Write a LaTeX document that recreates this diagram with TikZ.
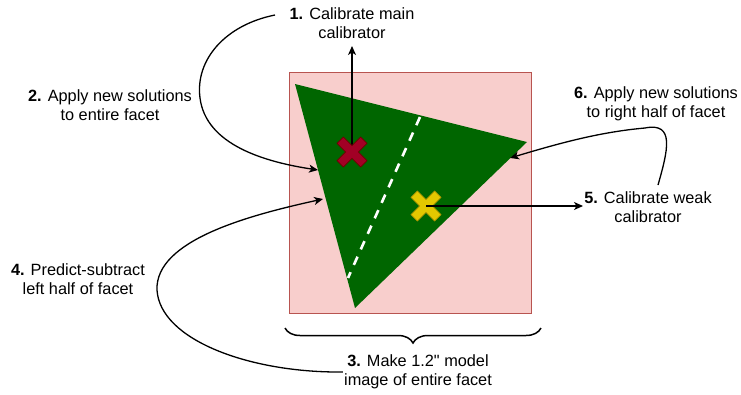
\documentclass[tikz,border=0pt]{standalone}
\usepackage{fontspec}
\setmainfont{Liberation Sans}
\usetikzlibrary{arrows.meta,decorations.pathreplacing}
\definecolor{pinkfill}{HTML}{F8CECC}
\definecolor{pinkline}{HTML}{B85450}
\definecolor{leafgreen}{HTML}{006600}
\definecolor{crimsonx}{HTML}{A20025}
\definecolor{crimsonline}{HTML}{6F0000}
\definecolor{goldx}{HTML}{E3C800}
\definecolor{goldline}{HTML}{B09500}
\newcommand\mycrossshape[3]{%
  \filldraw[fill=#2, draw=#3, line width=0.6pt, shift={(#1)}, rotate=45]
    (16.7,4.5) -- (4.5,4.5) -- (4.5,16.7) -- (-4.5,16.7) -- (-4.5,4.5) -- (-16.7,4.5)
    -- (-16.7,-4.5) -- (-4.5,-4.5) -- (-4.5,-16.7) -- (4.5,-16.7) -- (4.5,-4.5) -- (16.7,-4.5) -- cycle;}
\begin{document}
\begin{tikzpicture}[x=1pt,y=-1pt,
  lab/.style={align=center,font=\fontsize{16.3}{19}\selectfont,inner sep=1pt},
  conn/.style={line width=1.3pt,-{Stealth[length=9pt,width=8pt,inset=2.5pt]}}]
\useasboundingbox (0,0) rectangle (741,394);
% facet box
\filldraw[fill=pinkfill, draw=pinkline, line width=0.8pt] (289,72) rectangle (531,313);
% triangle
\fill[leafgreen] (295,84) -- (527,142) -- (355,308) -- cycle;
\draw[white, line width=2.6pt, dash pattern=on 9pt off 8pt] (420,117) -- (348,278);
% coordinates
\coordinate (redx) at (352,152);
\coordinate (yelx) at (426,206);
\coordinate (t2) at (318,170);
\coordinate (t4) at (323,199);
\coordinate (t6) at (510,158);
\coordinate (s2) at (275,15);
\coordinate (s6) at (658,185);
% labels
\node[lab] (lab1) at (352,23) {\textbf{1.} Calibrate main\\calibrator};
\node[lab] (lab2) at (110,105) {\textbf{2.} Apply new solutions\\to entire facet};
\node[lab] (lab3) at (418,372) {\textbf{3.} Make 1.2\textquotedbl{} model\\image of entire facet};
\node[lab] (lab4) at (78,279) {\textbf{4.} Predict-subtract\\left half of facet};
\node[lab] (lab5) at (648,207) {\textbf{5.} Calibrate weak\\calibrator};
\node[lab] (lab6) at (656,104) {\textbf{6.} Apply new solutions\\to right half of facet};
% brace
\draw[line width=1.5pt, decorate, decoration={brace, amplitude=15pt, mirror}] (285,328) -- (541,328);
% connectors
\draw[conn] (redx) -- (352,46);
\draw[conn] (yelx) -- (583,206);
\draw[conn] (s2) .. controls (225,25) and (195,60) .. (200,98) .. controls (206,145) and (265,162) .. (t2);
\draw[conn] (lab3.west) .. controls (250,373) and (160,340) .. (157,290) .. controls (155,240) and (250,215) .. (t4);
\draw[conn] (s6) .. controls (668,150) and (675,122) .. (645,128) .. controls (600,132) and (560,143) .. (t6);
% crosses
\mycrossshape{redx}{crimsonx}{crimsonline}
\mycrossshape{yelx}{goldx}{goldline}
\draw[line width=1.3pt] (yelx) -- (440,206);
\end{tikzpicture}
\end{document}
